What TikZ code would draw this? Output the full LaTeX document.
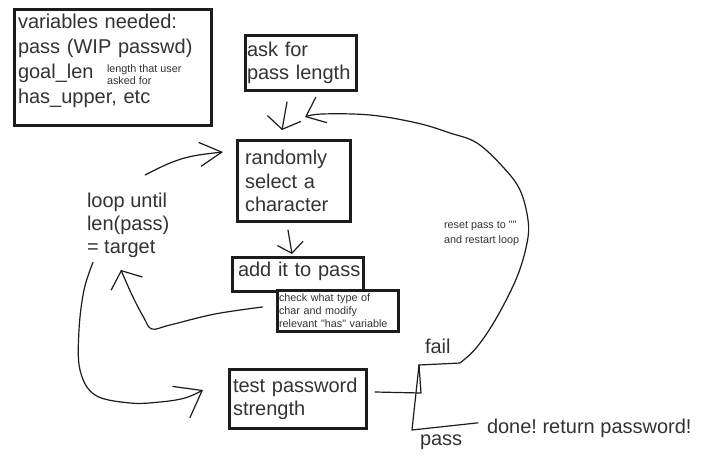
\documentclass[tikz,border=0pt]{standalone}
\usepackage{fontspec}
\setmainfont{Liberation Sans}
\usepackage{tikz}
\usetikzlibrary{positioning,calc,arrows.meta}
\definecolor{ink}{HTML}{333333}
\definecolor{pen}{HTML}{1C1C1C}
\frenchspacing
\tikzset{
	box/.style={draw=pen, line width=3pt, fill=white, anchor=north west, align=left,
		outer sep=0pt, inner ysep=0pt, text=ink, font=\fontsize{20}{23}\selectfont},
	note/.style={inner sep=0pt, outer sep=0pt, anchor=north west, align=left,
		text=ink, font=\fontsize{10.8}{13}\selectfont},
	freetxt/.style={inner sep=0pt, outer sep=0pt, anchor=base west, text=ink,
		font=\fontsize{20}{23}\selectfont},
	sketch/.style={draw=pen, line width=1.2pt, line cap=round, line join=round},
	barb/.style={-{Straight Barb[#1]}},
	barb/.default={length=14pt,width=28pt},
}
\begin{document}
\begin{tikzpicture}[x=1pt,y=-1pt]
	\fill[white] (0,0) rectangle (706,465);
	\useasboundingbox (0,0) rectangle (706,465);
	%% boxes
	\node[box, minimum width=197pt, minimum height=116pt, text width=190pt, inner xsep=3.5pt,
		font=\fontsize{20}{25}\selectfont] (vars) at (14.5,9.5)
		{variables needed:\\ pass (WIP passwd)\\ goal\_len\\ has\_upper, etc\rule[-18.3pt]{0pt}{18.3pt}};
	\node[box, minimum width=111pt, minimum height=55pt, text width=108pt, inner xsep=1.5pt] (ask) at (245.5,35.5)
		{ask for\\ pass length};
	\node[box, minimum width=113pt, minimum height=81pt, text width=98pt, inner xsep=7.5pt,
		font=\fontsize{20}{23.5}\selectfont] (rand) at (237.5,140.5)
		{randomly\\ select a\\ character};
	\node[box, minimum width=131pt, minimum height=34pt, text width=126pt, inner xsep=2.5pt] (add) at (232.5,257.5)
		{\hspace{3pt}add it to pass\rule[-11.3pt]{0pt}{11.3pt}};
	\node[box, minimum width=121pt, minimum height=41pt, text width=118pt, inner xsep=1.5pt,
		font=\fontsize{10.8}{13}\selectfont] (check) at (277.5,290.5)
		{check what type of\\ char and modify\\ relevant \textquotedbl has\textquotedbl{} variable};
	\node[box, minimum width=137pt, minimum height=59pt, text width=130pt, inner xsep=3.5pt] (test) at (229.5,369.5)
		{test password\\ strength};
	%% loose texts
	\node[note, font=\fontsize{10.8}{12.5}\selectfont] (lenNote) at (107,64.3) {length that user\\ asked for};
	\node[note, font=\fontsize{10.8}{15}\selectfont] (resetTxt) at (444,221.3)
		{reset pass to \textquotedbl\textquotedbl\\ and restart loop};
	\node[note, font=\fontsize{20}{23}\selectfont] (loopTxt) at (87,192.7) {loop until\\ len(pass)\\ = target};
	\node[freetxt] (failTxt) at (425,353) {fail};
	\node[freetxt] (passTxt) at (420,445) {pass};
	\node[freetxt] (done) at (487,433) {done! return password!};
	%% free ends
	\coordinate (askOut) at ($(ask.south)+(-14,11.5)$);
	\coordinate (randIn) at ($(rand.north)+(-12,-10.5)$);
	\coordinate (randOut) at ($(rand.south)+(-6,8.5)$);
	\coordinate (addIn) at ($(add.north)+(-6,-3.5)$);
	\coordinate (testOut) at ($(test.east)+(8.5,-7)$);
	\coordinate (fork) at (421,393);
	\coordinate (forkTop) at (419,365);
	\coordinate (passCorner) at (412,430);
	\coordinate (doneIn) at ($(done.west)+(-9,-5)$);
	\coordinate (restart) at (305,117);
	\coordinate (checkOut) at ($(check.west)+(-15,-4)$);
	\coordinate (loopBack) at (121,270);
	\coordinate (loopUp) at ($(loopTxt.north)+(17,-17.7)$);
	\coordinate (randSide) at ($(rand.north west)+(-14.5,11.5)$);
	\coordinate (loopDown) at ($(loopTxt.south west)+(6,5)$);
	\coordinate (testIn) at ($(test.west)+(-26.5,-9)$);
	% main flow
	\draw[sketch, barb={length=11pt,width=34pt}] (askOut) -- (randIn);
	\draw[sketch, barb={length=10pt,width=26pt}] (randOut) -- (addIn);
	\draw[sketch] (testOut) -- (fork) -- (forkTop);
	% fail, back to the start
	\draw[sketch, barb={length=17pt,width=28pt}] (forkTop) -- (460,363) -- plot[smooth, tension=0.6] coordinates {(460,363) (477,347)
		(497,317) (517,277) (527,243) (528,220) (520,190) (503,167) (477,143) (450,133) (417,123)
		(370,115) (322,114) (restart)};
	% pass
	\draw[sketch] (forkTop) -- (passCorner) -- (doneIn);
	% loop arrows
	\draw[sketch, barb={length=14pt,width=34pt}] plot[smooth, tension=0.6] coordinates {(checkOut) (215,314) (170,325) (152,329)
		(144,318) (132,295) (loopBack)};
	\draw[sketch, barb={length=22pt,width=24pt}] plot[smooth, tension=0.6] coordinates {(loopUp) (170,163) (193,156) (randSide)};
	\draw[sketch, barb={length=24pt,width=36pt}] plot[smooth, tension=0.6] coordinates {(loopDown) (84,290) (79,330) (80,370)
		(95,395) (130,403) (160,402) (185,398) (testIn)};
\end{tikzpicture}
\end{document}
